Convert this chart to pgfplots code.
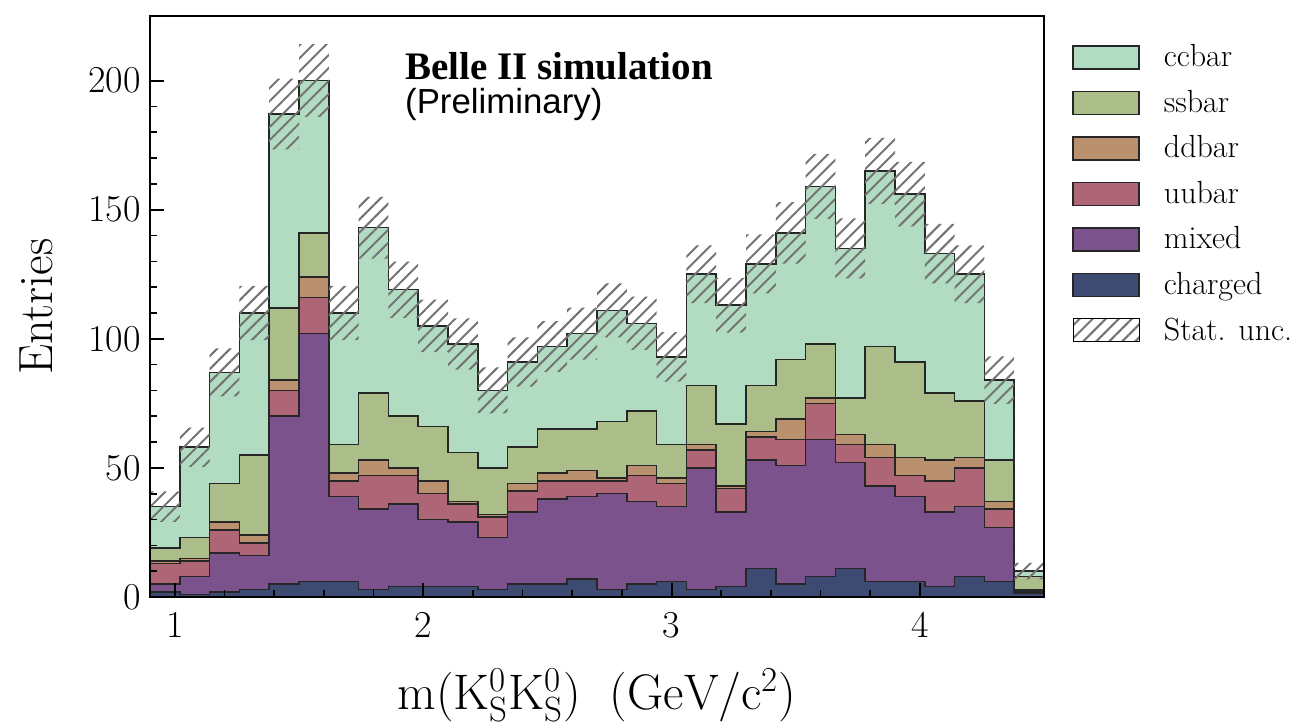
\documentclass[border=0pt]{standalone}
\usepackage{fontspec}
\newfontfamily\belleserif{Liberation Serif}
\newfontfamily\bellesans{Liberation Sans}
\usepackage{pgfplots}
\usepackage{pgfplotstable}
\pgfplotsset{compat=1.18}
\usetikzlibrary{patterns.meta}

\definecolor{ccbarc}{HTML}{B2DCC2}
\definecolor{ssbarc}{HTML}{ABBE8A}
\definecolor{ddbarc}{HTML}{B9916F}
\definecolor{uubarc}{HTML}{AE6677}
\definecolor{mixedc}{HTML}{7B528B}
\definecolor{chargedc}{HTML}{3D4A72}

% Cumulative stack heights per bin (left bin edge; last row closes the final bin)
% tot = all channels, ss = up to ssbar, dd = up to ddbar, uu = up to uubar,
% mx = up to mixed, ch = charged only
\pgfplotstableread{
x    tot  ss   dd   uu   mx   ch
0.90 35   19   14   13   5    2
1.02 58   23   15   14   8    1
1.14 87   44   29   26   17   2
1.26 110  55   24   21   16   3
1.38 187  112  84   80   70   5
1.50 200  141  124  116  102  6
1.62 110  59   48   45   39   6
1.74 143  79   53   47   34   3
1.86 119  70   50   47   36   4
1.98 105  66   45   40   30   4
2.10 98   56   37   36   29   4
2.22 80   50   32   31   23   3
2.34 91   58   44   41   33   5
2.46 97   65   48   45   38   5
2.58 102  65   49   45   39   7
2.70 111  68   46   45   40   3
2.82 106  72   51   47   37   5
2.94 93   59   46   44   35   6
3.06 125  82   59   57   50   3
3.18 113  67   43   42   33   4
3.30 129  82   64   62   53   11
3.42 141  92   69   61   51   5
3.54 159  98   77   75   61   8
3.66 135  77   63   59   52   11
3.78 165  97   59   54   43   6
3.90 156  91   54   47   39   6
4.02 133  79   53   45   33   4
4.14 125  76   54   50   35   8
4.26 84   53   37   34   27   6
4.38 10   8    3    2.5  2    1.5
4.50 10   8    3    2.5  2    1.5
}\stackdata

\tikzset{
  hatch/.style={pattern={Lines[angle=45,distance=4.6pt,line width=1pt]},
    pattern color=black!55},
  rowframe/.style={draw=none, fill=none},
}
% legend swatch; the invisible frame fixes each legend row at 22.75pt
\pgfplotsset{
  layer/.style={const plot mark left, fill=#1, draw=black!85, line width=0.75pt,
    legend image code/.code={%
      \path[rowframe] (0pt,-11.375pt) rectangle (33pt,11.375pt);
      \draw[##1] (0pt,-5.75pt) rectangle (33pt,5.75pt);}},
}

\begin{document}
\begin{tikzpicture}
\begin{axis}[
  scale only axis,
  width=447pt, height=290.5pt,
  xmin=0.9, xmax=4.5, ymin=0, ymax=225,
  axis on top,
  axis line style={line width=1.3pt},
  tick pos=left, tick align=inside,
  xtick={1,2,3,4}, minor x tick num=4,
  ytick={0,50,100,150,200}, minor y tick num=4,
  major tick length=7pt, minor tick length=3.5pt,
  major tick style={line width=1pt, black},
  minor tick style={line width=0.8pt, black},
  /pgf/number format/assume math mode=true,
  tick label style={font=\fontsize{19}{19}\selectfont},
  xticklabel style={yshift=-4.2pt},
  yticklabel style={xshift=-1.2pt},
  xlabel={$\mathrm{m(K^0_S K^0_S)\;\ (GeV/c^2)}$},
  ylabel={Entries},
  label style={font=\fontsize{24}{24}\selectfont},
  xlabel style={at={(axis description cs:0.5,-0.1935)}, anchor=base,
    font=\fontsize{25}{25}\selectfont},
  ylabel style={at={(axis description cs:-0.1096,0.5)}, anchor=base},
  legend cell align=left,
  legend style={draw=none, fill=none, at={(1,1)}, anchor=north west,
    xshift=14pt, yshift=-9.1pt, inner sep=0pt, row sep=0pt,
    column sep=12pt, nodes={inner sep=0pt},
    font=\fontsize{16}{19.2}\selectfont},
]
\addplot[layer=ccbarc] table[x=x, y=tot] {\stackdata} \closedcycle;
\addlegendentry{ccbar}
\addplot[layer=ssbarc] table[x=x, y=ss] {\stackdata} \closedcycle;
\addlegendentry{ssbar}
\addplot[layer=ddbarc] table[x=x, y=dd] {\stackdata} \closedcycle;
\addlegendentry{ddbar}
\addplot[layer=uubarc] table[x=x, y=uu] {\stackdata} \closedcycle;
\addlegendentry{uubar}
\addplot[layer=mixedc] table[x=x, y=mx] {\stackdata} \closedcycle;
\addlegendentry{mixed}
\addplot[layer=chargedc] table[x=x, y=ch] {\stackdata} \closedcycle;
\addlegendentry{charged}

% Statistical uncertainty band: upper edge left to right, lower edge back
\addplot[draw=none, hatch, forget plot] coordinates {
(0.90,40.9)(1.02,40.9)(1.02,65.6)(1.14,65.6)(1.14,96.3)(1.26,96.3)
(1.26,120.5)(1.38,120.5)(1.38,200.7)(1.50,200.7)(1.50,214.1)(1.62,214.1)
(1.62,120.5)(1.74,120.5)(1.74,155.0)(1.86,155.0)(1.86,129.9)(1.98,129.9)
(1.98,115.2)(2.10,115.2)(2.10,107.9)(2.22,107.9)(2.22,88.9)(2.34,88.9)
(2.34,100.5)(2.46,100.5)(2.46,106.8)(2.58,106.8)(2.58,112.1)(2.70,112.1)
(2.70,121.5)(2.82,121.5)(2.82,116.3)(2.94,116.3)(2.94,102.6)(3.06,102.6)
(3.06,136.2)(3.18,136.2)(3.18,123.6)(3.30,123.6)(3.30,140.4)(3.42,140.4)
(3.42,152.9)(3.54,152.9)(3.54,171.6)(3.66,171.6)(3.66,146.6)(3.78,146.6)
(3.78,177.8)(3.90,177.8)(3.90,168.5)(4.02,168.5)(4.02,144.5)(4.14,144.5)
(4.14,136.2)(4.26,136.2)(4.26,93.2)(4.38,93.2)(4.38,13.2)(4.50,13.2)
(4.50,6.8)(4.38,6.8)(4.38,74.8)(4.26,74.8)(4.26,113.8)(4.14,113.8)
(4.14,121.5)(4.02,121.5)(4.02,143.5)(3.90,143.5)(3.90,152.2)(3.78,152.2)
(3.78,123.4)(3.66,123.4)(3.66,146.4)(3.54,146.4)(3.54,129.1)(3.42,129.1)
(3.42,117.6)(3.30,117.6)(3.30,102.4)(3.18,102.4)(3.18,113.8)(3.06,113.8)
(3.06,83.4)(2.94,83.4)(2.94,95.7)(2.82,95.7)(2.82,100.5)(2.70,100.5)
(2.70,91.9)(2.58,91.9)(2.58,87.2)(2.46,87.2)(2.46,81.5)(2.34,81.5)
(2.34,71.1)(2.22,71.1)(2.22,88.1)(2.10,88.1)(2.10,94.8)(1.98,94.8)
(1.98,108.1)(1.86,108.1)(1.86,131.0)(1.74,131.0)(1.74,99.5)(1.62,99.5)
(1.62,185.9)(1.50,185.9)(1.50,173.3)(1.38,173.3)(1.38,99.5)(1.26,99.5)
(1.26,77.7)(1.14,77.7)(1.14,50.4)(1.02,50.4)(1.02,29.1)(0.90,29.1)
};
\addlegendimage{legend image code/.code={%
  \path[rowframe] (0pt,-11.375pt) rectangle (33pt,11.375pt);
  \fill[hatch] (0pt,-5.75pt) rectangle (33pt,5.75pt);}}
\addlegendentry{Stat. unc.}

\node[anchor=base west, inner sep=0pt,
  font=\belleserif\bfseries\fontsize{19.5}{20}\selectfont]
  at (rel axis cs:0.285,0.891) {Belle II simulation};
\node[anchor=base west, inner sep=0pt,
  font=\bellesans\fontsize{17.4}{18}\selectfont]
  at (rel axis cs:0.285,0.8325) {(Preliminary)};
\end{axis}
\pgfresetboundingbox
\path[use as bounding box]
  ([xshift=-75pt,yshift=-62.5pt]current axis.south west)
  rectangle ([xshift=127.5pt,yshift=8pt]current axis.north east);
\end{tikzpicture}
\end{document}
